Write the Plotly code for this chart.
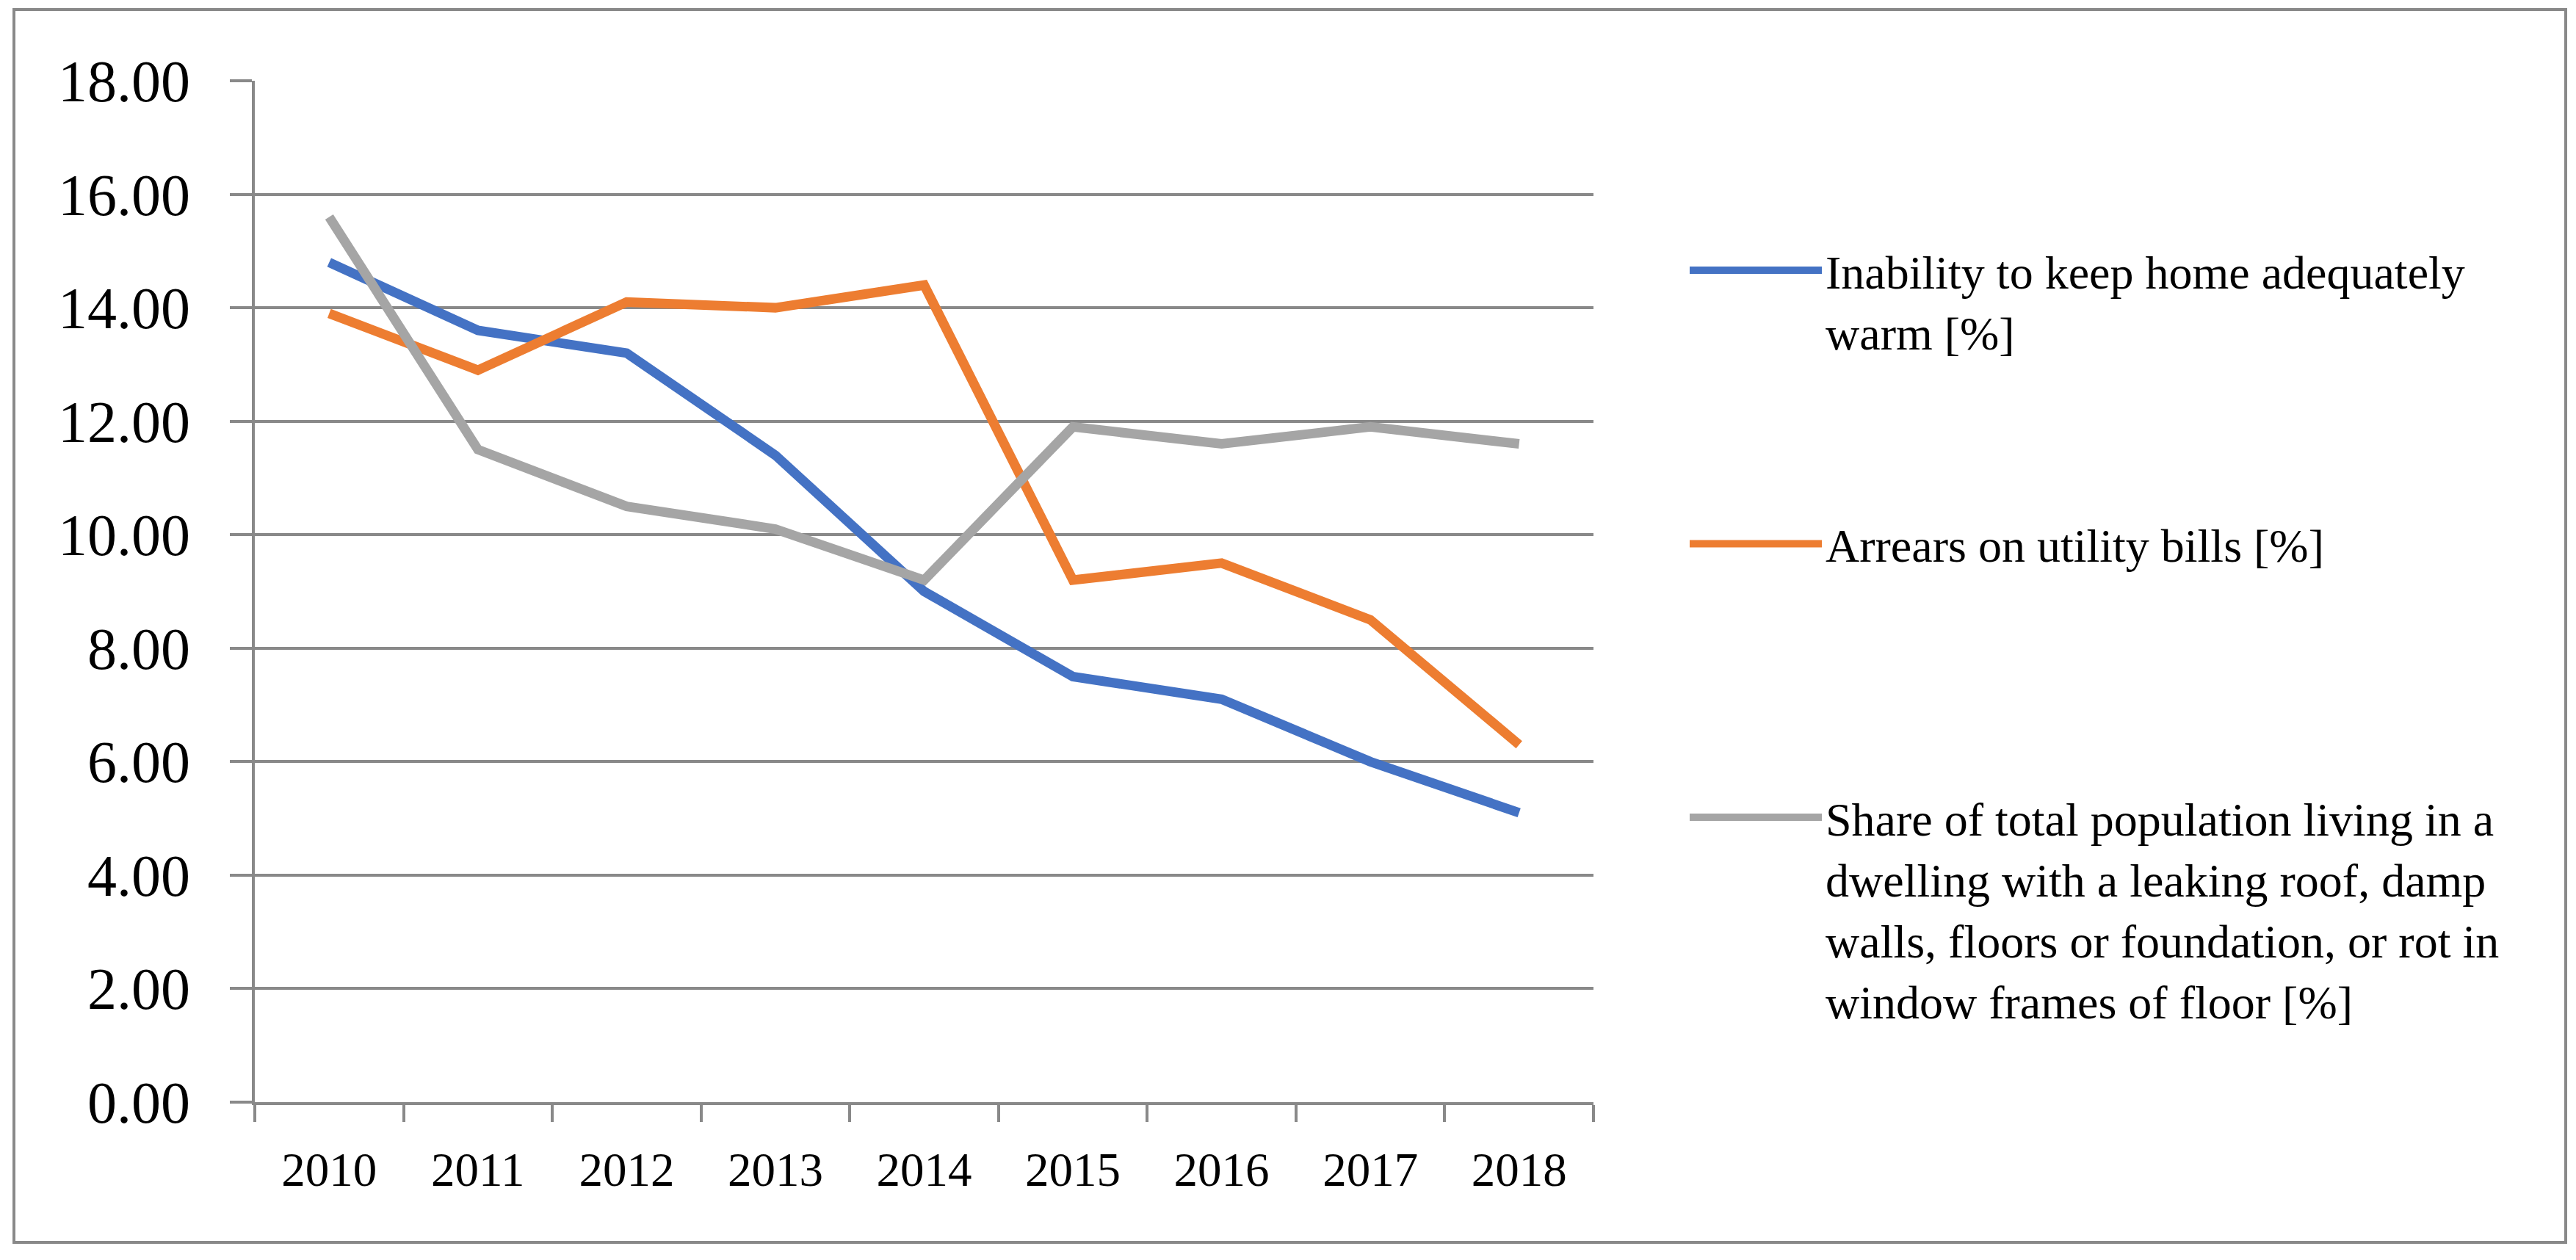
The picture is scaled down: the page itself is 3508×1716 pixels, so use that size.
import plotly.graph_objects as go

years = ["2010", "2011", "2012", "2013", "2014", "2015", "2016", "2017", "2018"]
warm = [14.8, 13.6, 13.2, 11.4, 9.0, 7.5, 7.1, 6.0, 5.1]
arrears = [13.9, 12.9, 14.1, 14.0, 14.4, 9.2, 9.5, 8.5, 6.3]
dwelling = [15.6, 11.5, 10.5, 10.1, 9.2, 11.9, 11.6, 11.9, 11.6]

names = [
    "Inability to keep home adequately<br>warm [%]",
    "Arrears on utility bills [%]<br> ",
    "Share of total population living in a<br>dwelling with a leaking roof, damp<br>walls, floors or foundation, or rot in<br>window frames of floor [%]",
]
colors = ["#4472C4", "#ED7D31", "#A5A5A5"]
series = [warm, arrears, dwelling]

W, H = 3508, 1716
OFF = 8  # default page body margin
# plot-area edges in page pixels
L, R, T, B = 347, 2170, 110, 1501
grid = "#898989"
font = "Liberation Serif"

fig = go.Figure()
for i, (nm, vals, c) in enumerate(zip(names, series, colors)):
    fig.add_trace(go.Scatter(
        x=years, y=vals, mode="lines", name=nm, legendgroup=f"g{i}",
        line=dict(color=c, width=13),
    ))

def px2paper_x(p):
    return (p - L) / (R - L)

def px2paper_y(p):
    return (B - p) / (B - T)

fig.update_layout(
    width=W, height=H,
    margin=dict(l=L - OFF, r=W - (R - OFF), t=T - OFF, b=H - (B - OFF), pad=0),
    paper_bgcolor="white", plot_bgcolor="white",
    font=dict(family=font, color="black"),
    xaxis=dict(
        type="category", range=[-0.5, 8.5], showgrid=False, zeroline=False,
        showline=True, linecolor=grid, linewidth=4,
        ticks="outside", tickson="boundaries", ticklen=23, tickwidth=4, tickcolor=grid,
        tickfont=dict(family=font, size=65, color="black"), ticklabelstandoff=32,
    ),
    yaxis=dict(
        range=[0, 18], dtick=2, tick0=0, tickformat=".2f",
        showgrid=True, gridcolor=grid, gridwidth=4, zeroline=False,
        showline=True, linecolor=grid, linewidth=4,
        ticks="outside", ticklen=30, tickwidth=4, tickcolor=grid,
        tickfont=dict(family=font, size=80, color="black"), ticklabelstandoff=38,
    ),
    legend=dict(
        x=px2paper_x(2296), xanchor="left", y=px2paper_y(320), yanchor="top",
        font=dict(family=font, size=64, color="black"),
        itemwidth=180, tracegroupgap=203, valign="top",
        bgcolor="rgba(0,0,0,0)",
    ),
    showlegend=True,
    shapes=[dict(
        type="rect", xref="paper", yref="paper",
        x0=px2paper_x(19), x1=px2paper_x(3494), y0=px2paper_y(1692), y1=px2paper_y(13),
        line=dict(color=grid, width=4), fillcolor="rgba(0,0,0,0)", layer="below",
    )],
)

fig.write_html("out.html")
